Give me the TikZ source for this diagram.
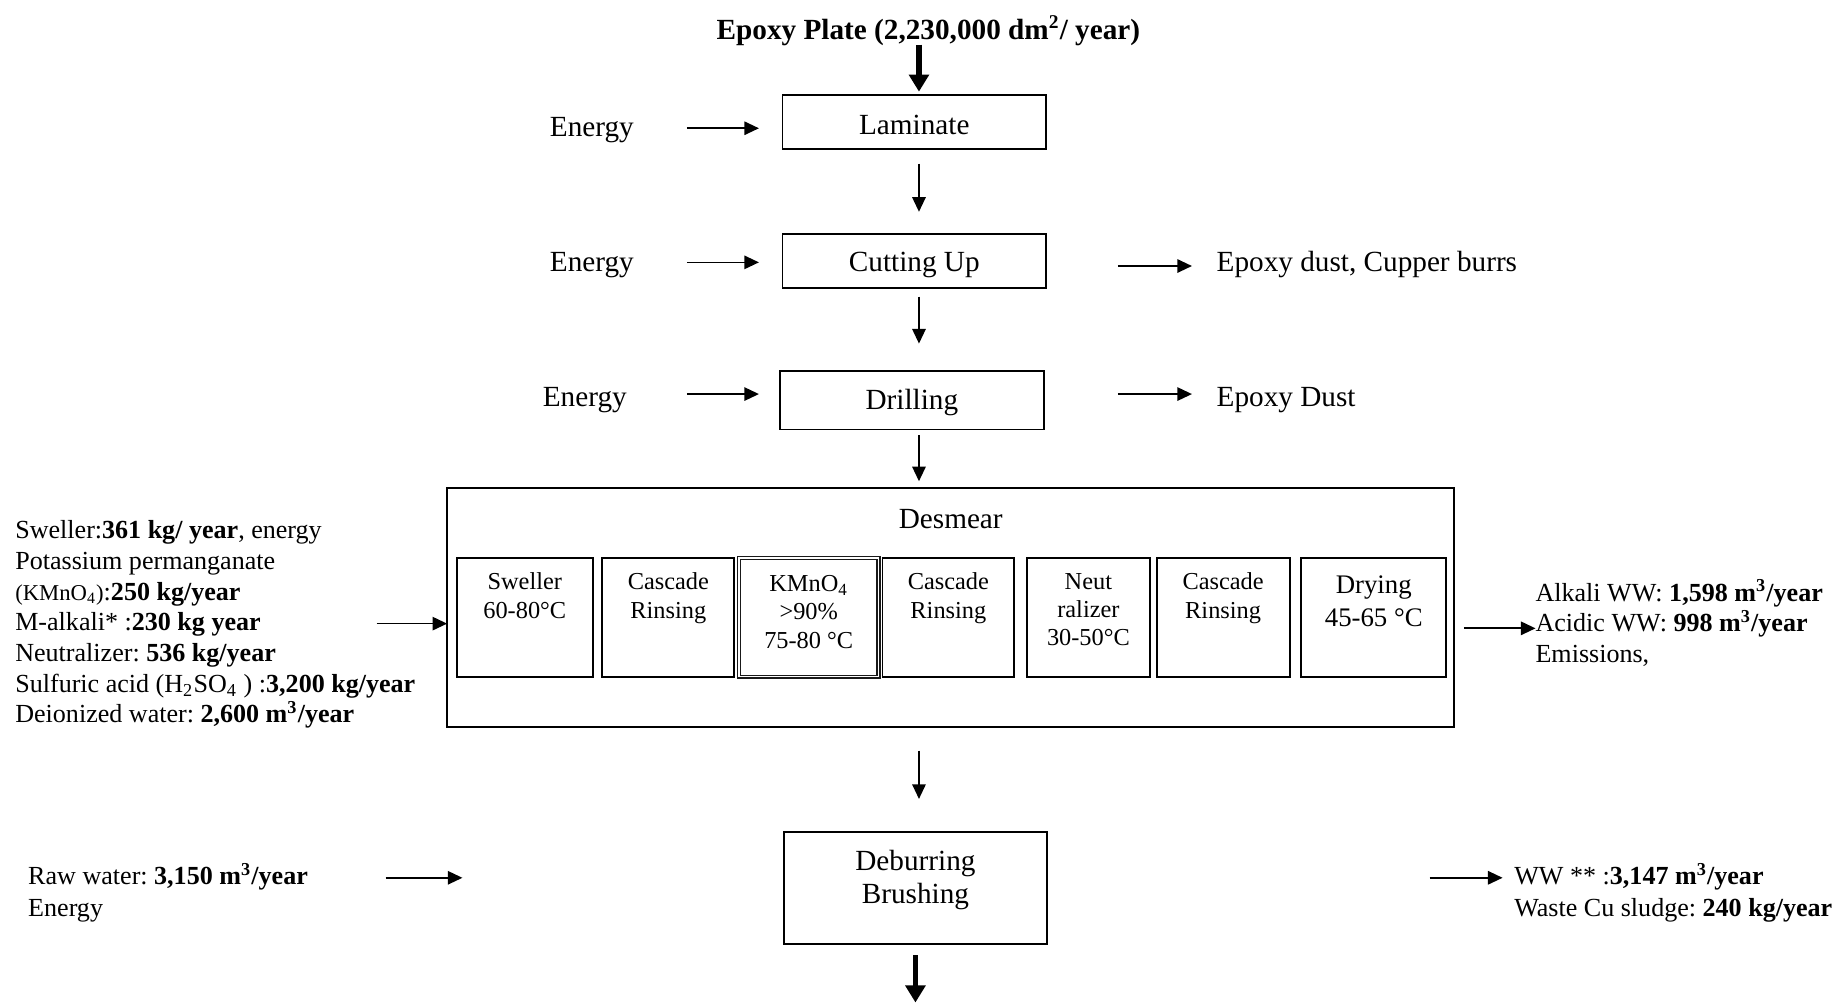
\documentclass[tikz,border=0pt]{standalone}
\usepackage{fontspec}
\setmainfont{Liberation Serif}
\usetikzlibrary{arrows.meta}
\frenchspacing
\newcommand\pxu{0.483pt}
% one stage of the desmear line: name, left x, right x, extra label options, text
\newcommand\stagebox[5]{%
  \node[stagebox, minimum width=(#3-#2)*\pxu,
        label={[stagetext,#4]north:{#5}}] (#1) at (#2,474) {};}
\begin{document}
\begin{tikzpicture}[x=0.483pt,y=-0.483pt,
  every node/.style={inner sep=0pt, outer sep=0pt},
  mainbox/.style={draw, line width=0.8pt, minimum width=224*\pxu,
                  text height=10pt, text depth=0pt,
                  font=\fontsize{12}{14}\selectfont},
  boxtext/.style={anchor=north, align=center, yshift=-7.7pt,
                  font=\fontsize{12}{13.5}\selectfont},
  stagebox/.style={draw, line width=0.8pt, anchor=north west,
                   minimum height=101*\pxu},
  stagetext/.style={anchor=north, align=center, yshift=-6.3pt,
                    font=\fontsize{10}{11.6}\selectfont},
  plain/.style={text height=9.5pt, text depth=2.6pt,
                font=\fontsize{12}{14}\selectfont},
  sidetext/.style={anchor=north west, align=left,
                   font=\fontsize{10.7}{12.6}\selectfont},
  flow/.style={-{Triangle[length=6pt,width=5.5pt]}, line width=0.7pt},
  bigflow/.style={-{Triangle[length=7pt,width=8pt]}, line width=2.3pt}]

\useasboundingbox (0,0) rectangle (1568,852);

% vertical axis of the process chain
\coordinate (ax) at (781,0);

% feed
\node[font=\bfseries\fontsize{12}{14}\selectfont] (title) at (789,26)
  {Epoxy Plate (2,230,000 dm\textsuperscript{2}/ year)};

% main process steps
\node[mainbox, minimum height=46*\pxu] (lam) at (777,104) {Laminate};
\node[mainbox, minimum height=46*\pxu, text height=8.4pt] (cut) at (777,222) {Cutting Up};
\node[mainbox, minimum height=50*\pxu, text height=7.6pt] (dri) at (775,340) {Drilling};
\node[draw, line width=0.8pt, minimum width=856*\pxu, minimum height=203*\pxu]
  (des) at (808,516.5) {};
\node[plain] (desT) at (808,442) {Desmear};
\node[mainbox, minimum height=95*\pxu,
      label={[boxtext]north:{Deburring\\Brushing}}] (deb) at (778,754.5) {};

% desmear stages
\stagebox{s1}{388}{504}{}{Sweller\\60-80°C}
\stagebox{s2}{512}{624}{}{Cascade\\Rinsing}
\node[stagebox, minimum width=118.6*\pxu, draw=black!90, line width=0.5pt,
      double=white, double distance=0.7pt,
      label={[stagetext,yshift=-1pt]north:{KMnO\textsubscript{4}\\>90\%\\75-80 °C}}]
  (s3) at (628,474) {};
\stagebox{s4}{750}{862}{}{Cascade\\Rinsing}
\stagebox{s5}{873}{977}{}{Neut\\ralizer\\30-50°C}
\stagebox{s6}{983}{1096}{}{Cascade\\Rinsing}
\stagebox{s7}{1106}{1229}{font=\fontsize{11}{13.5}\selectfont, yshift=-1pt}{Drying\\45-65 °C}

% energy inputs
\node[plain] (e1) at (503,109) {Energy};
\node[plain] (e2) at (503,224) {Energy};
\node[plain] (e3) at (497,338) {Energy};

% outputs of cutting and drilling
\node[plain, anchor=west] (o1) at (1034,224) {Epoxy dust, Cupper burrs};
\node[plain, anchor=west] (o2) at (1034,338) {Epoxy Dust};

% desmear inputs and outputs
\node[sidetext] (din) at (13,442.5) {%
  Sweller:\textbf{361 kg/ year}, energy\\
  Potassium permanganate\\
  {\fontsize{9.3}{12.6}\selectfont (KMnO\textsubscript{4})}:\textbf{250 kg/year}\\
  M-alkali* :\textbf{230 kg year}\\
  Neutralizer: \textbf{536 kg/year}\\
  Sulfuric acid (H\textsubscript{2}SO\textsubscript{4} ) :\textbf{3,200 kg/year}\\
  Deionized water: \textbf{2,600 m\textsuperscript{3}/year}};
\node[sidetext] (dout) at (1305,492.5) {%
  Alkali WW: \textbf{1,598 m\textsuperscript{3}/year}\\
  Acidic WW: \textbf{998 m\textsuperscript{3}/year}\\
  Emissions,};

% deburring inputs and outputs
\node[sidetext, font=\fontsize{10.7}{13}\selectfont] (bin) at (24,733.5) {%
  Raw water: \textbf{3,150 m\textsuperscript{3}/year}\\
  Energy};
\node[sidetext, font=\fontsize{10.7}{13}\selectfont] (bout) at (1287,733.5) {%
  WW ** :\textbf{3,147 m\textsuperscript{3}/year}\\
  Waste Cu sludge: \textbf{240 kg/year}};

% free arrow ends
\coordinate (topin) at (781,38);
\coordinate (dinA) at (320,530);
\coordinate (doutA) at (1305,534);
\coordinate (binB) at (393,746);
\coordinate (boutA) at (1215,746);
\coordinate (endout) at (778,852);

% main flow
\draw[bigflow, shorten >=1.5pt] (topin) -- (lam.north -| topin);
\draw[flow, shorten <=12*\pxu, shorten >=19*\pxu] (lam.south -| ax) -- (cut.north -| ax);
\draw[flow, shorten <=7*\pxu, shorten >=23*\pxu] (cut.south -| ax) -- (dri.north -| ax);
\draw[flow, shorten <=5*\pxu, shorten >=6*\pxu] (dri.south -| ax) -- (des.north -| ax);
\draw[flow, shorten <=20*\pxu, shorten >=28*\pxu] (des.south -| ax) -- (deb.north -| ax);
\draw[bigflow, shorten <=10*\pxu] (deb.south -| endout) -- (endout);

% energy arrows
\draw[flow, shorten <=45*\pxu, shorten >=20*\pxu] (e1.east) -- (e1.east -| lam.west);
\draw[flow, shorten <=45*\pxu, shorten >=20*\pxu] ([yshift=0.5pt]e2.east) -- ([yshift=0.5pt]e2.east -| cut.west);
\draw[flow, shorten <=51*\pxu, shorten >=18*\pxu] ([yshift=1.5pt]e3.east) -- ([yshift=1.5pt]e3.east -| dri.west);

% waste arrows
\draw[flow, shorten <=61*\pxu, shorten >=21*\pxu] ([yshift=-1pt]cut.east |- o1) -- ([yshift=-1pt]o1.west);
\draw[flow, shorten <=63*\pxu, shorten >=21*\pxu] ([yshift=1.5pt]dri.east |- o2) -- ([yshift=1.5pt]o2.west);

% desmear side arrows
\draw[flow] (dinA) -- (dinA -| des.west);
\draw[flow, shorten <=8*\pxu] (doutA -| des.east) -- (doutA);

% deburring side arrows
\draw[flow, shorten <=66*\pxu] (bin.east |- binB) -- (binB);
\draw[flow, shorten >=10*\pxu] (boutA) -- (boutA -| bout.west);
\end{tikzpicture}
\end{document}
